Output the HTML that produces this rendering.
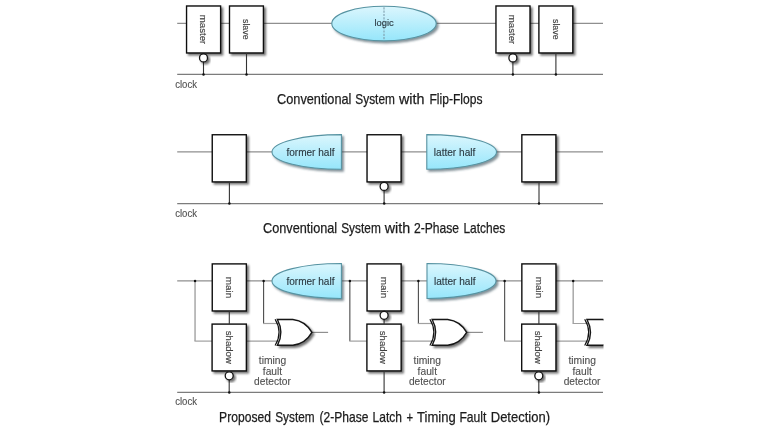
<!DOCTYPE html>
<html><head><meta charset="utf-8"><style>
html,body{margin:0;padding:0;background:#fff;width:768px;height:432px;overflow:hidden}
svg{display:block;will-change:transform}
text{font-family:"Liberation Sans", sans-serif}
</style></head><body>
<svg width="768" height="432" viewBox="0 0 768 432">
<defs>
<filter id="sh" x="-30%" y="-30%" width="170%" height="170%"><feDropShadow dx="2" dy="2" stdDeviation="1.1" flood-color="#000" flood-opacity="0.55"/></filter>
<filter id="shb" x="-30%" y="-30%" width="170%" height="170%"><feDropShadow dx="1.9" dy="2" stdDeviation="0.8" flood-color="#34505a" flood-opacity="0.62"/></filter>
<linearGradient id="bl" x1="0" y1="0" x2="0" y2="1"><stop offset="0" stop-color="#dbf6fd"/><stop offset="1" stop-color="#96e6fb"/></linearGradient>
<clipPath id="cp"><rect x="0" y="0" width="603.5" height="432"/></clipPath>
</defs>
<rect width="768" height="432" fill="#fff"/>
<g clip-path="url(#cp)">
<line x1="177.20" y1="23.35" x2="603.00" y2="23.35" stroke="#8f8f8f" stroke-width="1.2"/>
<line x1="177.20" y1="74.40" x2="603.00" y2="74.40" stroke="#7c7c7c" stroke-width="1.2"/>
<text x="175.20" y="87.90" font-size="10.3" fill="#505050" stroke="#505050" stroke-width="0.12" textLength="21.80" lengthAdjust="spacingAndGlyphs">clock</text>
<rect x="186.55" y="6.00" width="34.05" height="46.95" fill="#fff" stroke="#080808" stroke-width="1.35" filter="url(#sh)"/>
<rect x="229.50" y="6.00" width="33.90" height="46.95" fill="#fff" stroke="#080808" stroke-width="1.35" filter="url(#sh)"/>
<text transform="translate(200.00,14.80) rotate(90)" font-size="9.8" fill="#404040" stroke="#404040" stroke-width="0.15" textLength="29.40" lengthAdjust="spacingAndGlyphs">master</text>
<text transform="translate(243.10,19.00) rotate(90)" font-size="9.8" fill="#404040" stroke="#404040" stroke-width="0.15" textLength="20.60" lengthAdjust="spacingAndGlyphs">slave</text>
<line x1="203.50" y1="61.50" x2="203.50" y2="74.40" stroke="#333" stroke-width="1.1"/>
<circle cx="203.50" cy="57.90" r="4.0" fill="#fff" stroke="#141414" stroke-width="1.3" filter="url(#sh)"/>
<line x1="246.50" y1="53.00" x2="246.50" y2="74.40" stroke="#333" stroke-width="1.1"/>
<circle cx="203.50" cy="74.40" r="1.25" fill="#111"/>
<circle cx="246.50" cy="74.40" r="1.25" fill="#111"/>
<rect x="495.95" y="6.00" width="34.05" height="46.95" fill="#fff" stroke="#080808" stroke-width="1.35" filter="url(#sh)"/>
<rect x="538.90" y="6.00" width="33.90" height="46.95" fill="#fff" stroke="#080808" stroke-width="1.35" filter="url(#sh)"/>
<text transform="translate(509.40,14.80) rotate(90)" font-size="9.8" fill="#404040" stroke="#404040" stroke-width="0.15" textLength="29.40" lengthAdjust="spacingAndGlyphs">master</text>
<text transform="translate(552.50,19.00) rotate(90)" font-size="9.8" fill="#404040" stroke="#404040" stroke-width="0.15" textLength="20.60" lengthAdjust="spacingAndGlyphs">slave</text>
<line x1="512.90" y1="61.50" x2="512.90" y2="74.40" stroke="#333" stroke-width="1.1"/>
<circle cx="512.90" cy="57.90" r="4.0" fill="#fff" stroke="#141414" stroke-width="1.3" filter="url(#sh)"/>
<line x1="555.90" y1="53.00" x2="555.90" y2="74.40" stroke="#333" stroke-width="1.1"/>
<circle cx="512.90" cy="74.40" r="1.25" fill="#111"/>
<circle cx="555.90" cy="74.40" r="1.25" fill="#111"/>
<ellipse cx="384" cy="23.6" rx="52.2" ry="17.3" fill="url(#bl)" stroke="#5793a2" stroke-width="1.1" filter="url(#shb)"/>
<line x1="384" y1="7.3" x2="384" y2="40.2" stroke="#7f9fae" stroke-width="1.1" stroke-dasharray="2.2 1.1"/>
<text x="374.50" y="26.20" font-size="9.9" fill="#2c3b43" stroke="#2c3b43" stroke-width="0.15" textLength="19.20" lengthAdjust="spacingAndGlyphs">logic</text>
<text x="277.00" y="103.60" font-size="14.4" fill="#1c1c1c" stroke="#1c1c1c" stroke-width="0.25" textLength="74.40" lengthAdjust="spacingAndGlyphs">Conventional</text>
<text x="355.30" y="103.60" font-size="14.4" fill="#1c1c1c" stroke="#1c1c1c" stroke-width="0.25" textLength="39.60" lengthAdjust="spacingAndGlyphs">System</text>
<text x="398.90" y="103.60" font-size="14.4" fill="#1c1c1c" stroke="#1c1c1c" stroke-width="0.25" textLength="25.50" lengthAdjust="spacingAndGlyphs">with</text>
<text x="429.50" y="103.60" font-size="14.4" fill="#1c1c1c" stroke="#1c1c1c" stroke-width="0.25" textLength="53.00" lengthAdjust="spacingAndGlyphs">Flip-Flops</text>
<line x1="177.20" y1="151.90" x2="603.00" y2="151.90" stroke="#8f8f8f" stroke-width="1.2"/>
<line x1="177.20" y1="203.60" x2="603.00" y2="203.60" stroke="#7c7c7c" stroke-width="1.2"/>
<text x="175.20" y="216.70" font-size="10.3" fill="#505050" stroke="#505050" stroke-width="0.12" textLength="21.80" lengthAdjust="spacingAndGlyphs">clock</text>
<rect x="212.25" y="134.75" width="34.05" height="47.15" fill="#fff" stroke="#080808" stroke-width="1.35" filter="url(#sh)"/>
<line x1="229.40" y1="182.00" x2="229.40" y2="203.60" stroke="#333" stroke-width="1.1"/>
<circle cx="229.40" cy="203.60" r="1.25" fill="#111"/>
<rect x="367.05" y="134.75" width="34.05" height="47.15" fill="#fff" stroke="#080808" stroke-width="1.35" filter="url(#sh)"/>
<line x1="384.10" y1="190.00" x2="384.10" y2="203.60" stroke="#333" stroke-width="1.1"/>
<circle cx="384.10" cy="186.40" r="4.0" fill="#fff" stroke="#141414" stroke-width="1.3" filter="url(#sh)"/>
<circle cx="384.20" cy="203.60" r="1.25" fill="#111"/>
<rect x="521.85" y="134.75" width="34.05" height="47.15" fill="#fff" stroke="#080808" stroke-width="1.35" filter="url(#sh)"/>
<line x1="539.00" y1="182.00" x2="539.00" y2="203.60" stroke="#333" stroke-width="1.1"/>
<circle cx="539.00" cy="203.60" r="1.25" fill="#111"/>
<path d="M341.40,134.60 L341.40,169.30 A69.40,17.35 0 0 1 272.00,151.95 A69.40,17.35 0 0 1 341.40,134.60 Z" fill="url(#bl)" stroke="#5793a2" stroke-width="1.1" filter="url(#shb)"/>
<path d="M426.80,134.60 A69.70,17.35 0 0 1 496.50,151.95 A69.70,17.35 0 0 1 426.80,169.30 Z" fill="url(#bl)" stroke="#5793a2" stroke-width="1.1" filter="url(#shb)"/>
<text x="286.40" y="155.70" font-size="10.6" fill="#2c3b43" stroke="#2c3b43" stroke-width="0.15" textLength="48.10" lengthAdjust="spacingAndGlyphs">former half</text>
<text x="433.80" y="155.70" font-size="10.6" fill="#2c3b43" stroke="#2c3b43" stroke-width="0.15" textLength="41.50" lengthAdjust="spacingAndGlyphs">latter half</text>
<text x="263.00" y="233.00" font-size="14.4" fill="#1c1c1c" stroke="#1c1c1c" stroke-width="0.25" textLength="74.20" lengthAdjust="spacingAndGlyphs">Conventional</text>
<text x="341.20" y="233.00" font-size="14.4" fill="#1c1c1c" stroke="#1c1c1c" stroke-width="0.25" textLength="39.60" lengthAdjust="spacingAndGlyphs">System</text>
<text x="384.80" y="233.00" font-size="14.4" fill="#1c1c1c" stroke="#1c1c1c" stroke-width="0.25" textLength="25.40" lengthAdjust="spacingAndGlyphs">with</text>
<text x="413.90" y="233.00" font-size="14.4" fill="#1c1c1c" stroke="#1c1c1c" stroke-width="0.25" textLength="45.20" lengthAdjust="spacingAndGlyphs">2-Phase</text>
<text x="463.40" y="233.00" font-size="14.4" fill="#1c1c1c" stroke="#1c1c1c" stroke-width="0.25" textLength="41.90" lengthAdjust="spacingAndGlyphs">Latches</text>
<line x1="177.20" y1="280.90" x2="603.00" y2="280.90" stroke="#8f8f8f" stroke-width="1.2"/>
<line x1="177.20" y1="392.40" x2="603.00" y2="392.40" stroke="#7c7c7c" stroke-width="1.2"/>
<text x="175.20" y="404.80" font-size="10.3" fill="#505050" stroke="#505050" stroke-width="0.12" textLength="21.80" lengthAdjust="spacingAndGlyphs">clock</text>
<line x1="195.05" y1="280.90" x2="195.05" y2="341.10" stroke="#a8a8a8" stroke-width="1.5"/>
<line x1="194.45" y1="341.10" x2="212.00" y2="341.10" stroke="#a0a0a0" stroke-width="1.2"/>
<line x1="263.60" y1="280.90" x2="263.60" y2="323.50" stroke="#4a4a4a" stroke-width="1.1"/>
<line x1="263.00" y1="323.50" x2="279.00" y2="323.50" stroke="#a0a0a0" stroke-width="1.2"/>
<line x1="246.00" y1="341.10" x2="280.00" y2="341.10" stroke="#a0a0a0" stroke-width="1.2"/>
<line x1="311.00" y1="332.40" x2="328.10" y2="332.40" stroke="#8f8f8f" stroke-width="1.2"/>
<rect x="212.25" y="263.90" width="34.10" height="47.05" fill="#fff" stroke="#080808" stroke-width="1.35" filter="url(#sh)"/>
<rect x="212.10" y="324.10" width="34.25" height="46.80" fill="#fff" stroke="#080808" stroke-width="1.35" filter="url(#sh)"/>
<text transform="translate(226.00,276.80) rotate(90)" font-size="9.8" fill="#404040" stroke="#404040" stroke-width="0.15" textLength="21.50" lengthAdjust="spacingAndGlyphs">main</text>
<text transform="translate(225.60,330.80) rotate(90)" font-size="9.8" fill="#404040" stroke="#404040" stroke-width="0.15" textLength="33.10" lengthAdjust="spacingAndGlyphs">shadow</text>
<line x1="229.30" y1="311.00" x2="229.30" y2="324.00" stroke="#333" stroke-width="1.1"/>
<line x1="229.20" y1="379.50" x2="229.20" y2="392.40" stroke="#333" stroke-width="1.1"/>
<circle cx="229.20" cy="375.80" r="4.0" fill="#fff" stroke="#141414" stroke-width="1.3" filter="url(#sh)"/>
<circle cx="229.30" cy="392.40" r="1.25" fill="#111"/>
<circle cx="195.05" cy="280.90" r="1.25" fill="#111"/>
<circle cx="263.60" cy="280.90" r="1.25" fill="#111"/>
<path d="M277.40,319.5 L292.90,319.5 Q305.40,321.0 311.90,332.4 Q305.40,343.8 292.90,345.3 L277.40,345.3 Q284.40,332.4 277.40,319.5 Z" fill="#fff" stroke="#141414" stroke-width="1.4" filter="url(#sh)"/>
<path d="M275.10,319.3 Q283.10,332.4 275.10,345.5" fill="none" stroke="#141414" stroke-width="1.2"/>
<text x="258.80" y="363.70" font-size="10.6" fill="#505050" stroke="#505050" stroke-width="0.12" textLength="27.50" lengthAdjust="spacingAndGlyphs">timing</text>
<text x="262.80" y="374.60" font-size="10.6" fill="#505050" stroke="#505050" stroke-width="0.12" textLength="19.40" lengthAdjust="spacingAndGlyphs">fault</text>
<text x="254.10" y="384.70" font-size="10.6" fill="#505050" stroke="#505050" stroke-width="0.12" textLength="36.80" lengthAdjust="spacingAndGlyphs">detector</text>
<line x1="349.85" y1="280.90" x2="349.85" y2="341.10" stroke="#4a4a4a" stroke-width="1.1"/>
<line x1="349.25" y1="341.10" x2="366.80" y2="341.10" stroke="#a0a0a0" stroke-width="1.2"/>
<line x1="418.40" y1="280.90" x2="418.40" y2="323.50" stroke="#4a4a4a" stroke-width="1.1"/>
<line x1="417.80" y1="323.50" x2="433.80" y2="323.50" stroke="#a0a0a0" stroke-width="1.2"/>
<line x1="400.80" y1="341.10" x2="434.80" y2="341.10" stroke="#a0a0a0" stroke-width="1.2"/>
<line x1="465.80" y1="332.40" x2="482.90" y2="332.40" stroke="#8f8f8f" stroke-width="1.2"/>
<rect x="367.05" y="263.90" width="34.10" height="47.05" fill="#fff" stroke="#080808" stroke-width="1.35" filter="url(#sh)"/>
<rect x="366.90" y="324.10" width="34.25" height="46.80" fill="#fff" stroke="#080808" stroke-width="1.35" filter="url(#sh)"/>
<text transform="translate(380.80,276.80) rotate(90)" font-size="9.8" fill="#404040" stroke="#404040" stroke-width="0.15" textLength="21.50" lengthAdjust="spacingAndGlyphs">main</text>
<text transform="translate(380.40,330.80) rotate(90)" font-size="9.8" fill="#404040" stroke="#404040" stroke-width="0.15" textLength="33.10" lengthAdjust="spacingAndGlyphs">shadow</text>
<line x1="384.10" y1="311.00" x2="384.10" y2="324.00" stroke="#333" stroke-width="1.1"/>
<circle cx="384.10" cy="315.30" r="4.0" fill="#fff" stroke="#141414" stroke-width="1.3" filter="url(#sh)"/>
<line x1="384.10" y1="371.00" x2="384.10" y2="392.40" stroke="#333" stroke-width="1.1"/>
<circle cx="384.10" cy="392.40" r="1.25" fill="#111"/>
<circle cx="349.85" cy="280.90" r="1.25" fill="#111"/>
<circle cx="418.40" cy="280.90" r="1.25" fill="#111"/>
<path d="M432.20,319.5 L447.70,319.5 Q460.20,321.0 466.70,332.4 Q460.20,343.8 447.70,345.3 L432.20,345.3 Q439.20,332.4 432.20,319.5 Z" fill="#fff" stroke="#141414" stroke-width="1.4" filter="url(#sh)"/>
<path d="M429.90,319.3 Q437.90,332.4 429.90,345.5" fill="none" stroke="#141414" stroke-width="1.2"/>
<text x="413.60" y="363.70" font-size="10.6" fill="#505050" stroke="#505050" stroke-width="0.12" textLength="27.50" lengthAdjust="spacingAndGlyphs">timing</text>
<text x="417.60" y="374.60" font-size="10.6" fill="#505050" stroke="#505050" stroke-width="0.12" textLength="19.40" lengthAdjust="spacingAndGlyphs">fault</text>
<text x="408.90" y="384.70" font-size="10.6" fill="#505050" stroke="#505050" stroke-width="0.12" textLength="36.80" lengthAdjust="spacingAndGlyphs">detector</text>
<line x1="504.65" y1="280.90" x2="504.65" y2="341.10" stroke="#4a4a4a" stroke-width="1.1"/>
<line x1="504.05" y1="341.10" x2="521.60" y2="341.10" stroke="#a0a0a0" stroke-width="1.2"/>
<line x1="573.20" y1="280.90" x2="573.20" y2="323.50" stroke="#a8a8a8" stroke-width="1.5"/>
<line x1="572.60" y1="323.50" x2="588.60" y2="323.50" stroke="#a0a0a0" stroke-width="1.2"/>
<line x1="555.60" y1="341.10" x2="589.60" y2="341.10" stroke="#a0a0a0" stroke-width="1.2"/>
<line x1="620.60" y1="332.40" x2="637.70" y2="332.40" stroke="#8f8f8f" stroke-width="1.2"/>
<rect x="521.85" y="263.90" width="34.10" height="47.05" fill="#fff" stroke="#080808" stroke-width="1.35" filter="url(#sh)"/>
<rect x="521.70" y="324.10" width="34.25" height="46.80" fill="#fff" stroke="#080808" stroke-width="1.35" filter="url(#sh)"/>
<text transform="translate(535.60,276.80) rotate(90)" font-size="9.8" fill="#404040" stroke="#404040" stroke-width="0.15" textLength="21.50" lengthAdjust="spacingAndGlyphs">main</text>
<text transform="translate(535.20,330.80) rotate(90)" font-size="9.8" fill="#404040" stroke="#404040" stroke-width="0.15" textLength="33.10" lengthAdjust="spacingAndGlyphs">shadow</text>
<line x1="538.90" y1="311.00" x2="538.90" y2="324.00" stroke="#333" stroke-width="1.1"/>
<line x1="538.80" y1="379.50" x2="538.80" y2="392.40" stroke="#333" stroke-width="1.1"/>
<circle cx="538.80" cy="375.80" r="4.0" fill="#fff" stroke="#141414" stroke-width="1.3" filter="url(#sh)"/>
<circle cx="538.90" cy="392.40" r="1.25" fill="#111"/>
<circle cx="504.65" cy="280.90" r="1.25" fill="#111"/>
<circle cx="573.20" cy="280.90" r="1.25" fill="#111"/>
<path d="M587.00,319.5 L602.50,319.5 Q615.00,321.0 621.50,332.4 Q615.00,343.8 602.50,345.3 L587.00,345.3 Q594.00,332.4 587.00,319.5 Z" fill="#fff" stroke="#141414" stroke-width="1.4" filter="url(#sh)"/>
<path d="M584.70,319.3 Q592.70,332.4 584.70,345.5" fill="none" stroke="#141414" stroke-width="1.2"/>
<text x="568.40" y="363.70" font-size="10.6" fill="#505050" stroke="#505050" stroke-width="0.12" textLength="27.50" lengthAdjust="spacingAndGlyphs">timing</text>
<text x="572.40" y="374.60" font-size="10.6" fill="#505050" stroke="#505050" stroke-width="0.12" textLength="19.40" lengthAdjust="spacingAndGlyphs">fault</text>
<text x="563.70" y="384.70" font-size="10.6" fill="#505050" stroke="#505050" stroke-width="0.12" textLength="36.80" lengthAdjust="spacingAndGlyphs">detector</text>
<path d="M341.40,263.50 L341.40,298.50 A69.40,17.50 0 0 1 272.00,281.00 A69.40,17.50 0 0 1 341.40,263.50 Z" fill="url(#bl)" stroke="#5793a2" stroke-width="1.1" filter="url(#shb)"/>
<path d="M427.00,263.50 A69.00,17.50 0 0 1 496.00,281.00 A69.00,17.50 0 0 1 427.00,298.50 Z" fill="url(#bl)" stroke="#5793a2" stroke-width="1.1" filter="url(#shb)"/>
<text x="286.40" y="284.60" font-size="10.6" fill="#2c3b43" stroke="#2c3b43" stroke-width="0.15" textLength="48.10" lengthAdjust="spacingAndGlyphs">former half</text>
<text x="434.00" y="284.60" font-size="10.6" fill="#2c3b43" stroke="#2c3b43" stroke-width="0.15" textLength="41.50" lengthAdjust="spacingAndGlyphs">latter half</text>
<text x="219.10" y="421.50" font-size="14.4" fill="#1c1c1c" stroke="#1c1c1c" stroke-width="0.25" textLength="51.80" lengthAdjust="spacingAndGlyphs">Proposed</text>
<text x="275.25" y="421.50" font-size="14.4" fill="#1c1c1c" stroke="#1c1c1c" stroke-width="0.25" textLength="39.35" lengthAdjust="spacingAndGlyphs">System</text>
<text x="319.60" y="421.50" font-size="14.4" fill="#1c1c1c" stroke="#1c1c1c" stroke-width="0.25" textLength="48.90" lengthAdjust="spacingAndGlyphs">(2-Phase</text>
<text x="372.60" y="421.50" font-size="14.4" fill="#1c1c1c" stroke="#1c1c1c" stroke-width="0.25" textLength="29.40" lengthAdjust="spacingAndGlyphs">Latch</text>
<text x="406.40" y="421.50" font-size="14.4" fill="#1c1c1c" stroke="#1c1c1c" stroke-width="0.25" textLength="6.60" lengthAdjust="spacingAndGlyphs">+</text>
<text x="417.10" y="421.50" font-size="14.4" fill="#1c1c1c" stroke="#1c1c1c" stroke-width="0.25" textLength="38.65" lengthAdjust="spacingAndGlyphs">Timing</text>
<text x="459.40" y="421.50" font-size="14.4" fill="#1c1c1c" stroke="#1c1c1c" stroke-width="0.25" textLength="27.00" lengthAdjust="spacingAndGlyphs">Fault</text>
<text x="490.75" y="421.50" font-size="14.4" fill="#1c1c1c" stroke="#1c1c1c" stroke-width="0.25" textLength="59.25" lengthAdjust="spacingAndGlyphs">Detection)</text>
</g>
</svg>
</body></html>
